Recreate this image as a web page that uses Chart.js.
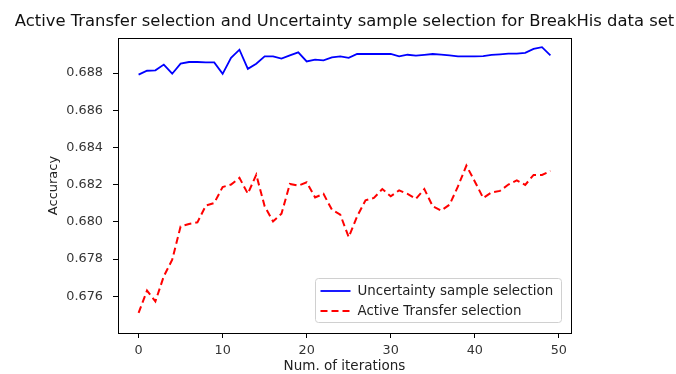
<!DOCTYPE html>
<html>
<head>
<meta charset="utf-8">
<script src="https://cdn.jsdelivr.net/npm/chart.js@4"></script>
<style>
  html, body { margin: 0; padding: 0; background: #fff; }
  #wrap { width: 676px; height: 374px; }
</style>
</head>
<body>
<div id="wrap"><canvas id="chart" width="676" height="374"></canvas></div>
<script>
const iterations = Array.from({ length: 50 }, (_, i) => i);

const uncertainty = [
    0.68792, 0.68813, 0.68815, 0.68846, 0.68797, 0.68851, 0.68860, 0.68860, 0.68858, 0.68858,
    0.68796, 0.68882, 0.68926, 0.68823, 0.68851, 0.68890, 0.68890, 0.68878, 0.68896, 0.68912,
    0.68863, 0.68873, 0.68869, 0.68885, 0.68890, 0.68882, 0.68903, 0.68903, 0.68903, 0.68903,
    0.68903, 0.68890, 0.68899, 0.68894, 0.68898, 0.68903, 0.68900, 0.68896, 0.68890, 0.68890,
    0.68890, 0.68892, 0.68898, 0.68901, 0.68905, 0.68905, 0.68909, 0.68930, 0.68940, 0.68896
];

const activeTransfer = [
    0.67511, 0.67631, 0.67573, 0.67708, 0.67797, 0.67976, 0.67989, 0.67998, 0.68088, 0.68102,
    0.68188, 0.68201, 0.68237, 0.68152, 0.68254, 0.68084, 0.68003, 0.68044, 0.68204, 0.68195,
    0.68213, 0.68132, 0.68151, 0.68066, 0.68039, 0.67919, 0.68030, 0.68116, 0.68129, 0.68177,
    0.68138, 0.68170, 0.68151, 0.68124, 0.68177, 0.68084, 0.68061, 0.68093, 0.68191, 0.68303,
    0.68218, 0.68129, 0.68159, 0.68167, 0.68201, 0.68224, 0.68199, 0.68253, 0.68253, 0.68274
];

const xTicks = [0, 10, 20, 30, 40, 50];
const yTicks = [0.676, 0.678, 0.680, 0.682, 0.684, 0.686, 0.688];

const chartTitle = 'Active Transfer selection and Uncertainty sample selection for BreakHis data set';

const FONT = "'DejaVu Sans', sans-serif";

// title centred over the plot area (the built-in one squeezes it into the box)
const topTitle = {
    id: 'topTitle',
    afterDraw(chart) {
        const a = chart.chartArea;
        const ctx = chart.ctx;
        ctx.save();
        ctx.font = '16.4px ' + FONT;
        ctx.fillStyle = '#111';
        ctx.textAlign = 'center';
        ctx.textBaseline = 'middle';
        ctx.fillText(chartTitle, (a.left + a.right) / 2, 22);
        ctx.restore();
    }
};

// full frame round the plot, like matplotlib's spines
const frame = {
    id: 'frame',
    afterDraw(chart) {
        const a = chart.chartArea;
        const ctx = chart.ctx;
        ctx.save();
        ctx.strokeStyle = '#000';
        ctx.lineWidth = 1;
        ctx.strokeRect(Math.round(a.left) + 0.5, Math.round(a.top) + 0.5,
            Math.round(a.right - a.left), Math.round(a.bottom - a.top));
        ctx.restore();
    }
};

// legend box inside the plot, lower right
const boxLegend = {
    id: 'boxLegend',
    afterDraw(chart) {
        const ctx = chart.ctx;
        const x0 = 315.5, y0 = 278.5, w = 246, h = 44;
        ctx.save();
        ctx.fillStyle = 'rgba(255,255,255,0.8)';
        ctx.strokeStyle = '#d0d0d0';
        ctx.lineWidth = 1;
        ctx.beginPath();
        ctx.roundRect(x0, y0, w, h, 3);
        ctx.fill();
        ctx.stroke();
        ctx.font = '13.4px ' + FONT;
        ctx.textBaseline = 'middle';
        chart.data.datasets.forEach((ds, i) => {
            const y = y0 + 12.5 + i * 20;
            ctx.strokeStyle = ds.borderColor;
            ctx.lineWidth = ds.borderWidth;
            ctx.setLineDash(ds.borderDash || []);
            ctx.beginPath();
            ctx.moveTo(x0 + 5, y);
            ctx.lineTo(x0 + 35, y);
            ctx.stroke();
            ctx.setLineDash([]);
            ctx.fillStyle = '#222';
            ctx.fillText(ds.label, x0 + 42, y + 1);
        });
        ctx.restore();
    }
};

new Chart(document.getElementById('chart'), {
    type: 'line',
    data: {
        labels: iterations,
        datasets: [{
            label: 'Uncertainty sample selection',
            data: uncertainty,
            borderColor: '#0000ff',
            borderWidth: 1.8,
            pointRadius: 0,
            tension: 0,
            fill: false
        }, {
            label: 'Active Transfer selection',
            data: activeTransfer,
            borderColor: '#ff0000',
            borderWidth: 2,
            borderDash: [7, 4],
            pointRadius: 0,
            tension: 0,
            fill: false
        }]
    },
    options: {
        responsive: false,
        animation: false,
        layout: { padding: { left: 0, right: 105, top: 38, bottom: 0 } },
        plugins: {
            legend: { display: false },
            title: { display: false },
            tooltip: { enabled: false }
        },
        scales: {
            x: {
                type: 'linear',
                min: -2.45,
                max: 51.45,
                afterBuildTicks: s => { s.ticks = xTicks.map(v => ({ value: v })); },
                afterFit: s => { s.height = 41; },
                grid: { drawOnChartArea: false, tickLength: 5, color: '#000' },
                border: { color: '#000', width: 1 },
                ticks: { color: '#333', font: { family: FONT, size: 12.8 }, padding: 5, maxRotation: 0 },
                title: {
                    display: true,
                    text: 'Num. of iterations',
                    color: '#222',
                    font: { family: FONT, size: 13.5 },
                    padding: { top: 0, bottom: -1 }
                }
            },
            y: {
                min: 0.67403,
                max: 0.68989,
                afterBuildTicks: s => { s.ticks = yTicks.map(v => ({ value: v })); },
                afterFit: s => { s.width = 118; },
                grid: { drawOnChartArea: false, tickLength: 5, color: '#000' },
                border: { color: '#000', width: 1 },
                ticks: {
                    color: '#333',
                    font: { family: FONT, size: 12.8 },
                    padding: 10,
                    callback: v => v.toFixed(3)
                },
                title: {
                    display: true,
                    text: 'Accuracy',
                    color: '#222',
                    font: { family: FONT, size: 13 },
                    padding: { top: 46, bottom: 0 }
                }
            }
        }
    },
    plugins: [topTitle, frame, boxLegend]
});
</script>
</body>
</html>
